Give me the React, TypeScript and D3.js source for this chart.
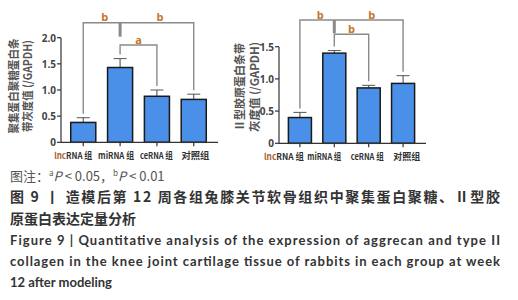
import React from "react";
import * as d3 from "d3";

const categories = ["lncRNA 组", "miRNA 组", "ceRNA 组", "对照组"];
const aggrecanMeans = [0.38, 1.43, 0.88, 0.82];
const aggrecanErr = [0.47, 1.6, 1.0, 0.92];
const collagenMeans = [0.4, 1.4, 0.86, 0.93];
const collagenErr = [0.48, 1.44, 0.9, 1.05];
const aggrecanTicks = [0, 0.5, 1.0, 1.5, 2.0];
const collagenTicks = [0, 0.5, 1.0, 1.5];
const aggrecanSig = ["b", "b", "a"];
const collagenSig = ["b", "b", "b"];
const yLabelLeft = ["聚集蛋白聚糖蛋白条", "带灰度值 (/GAPDH)"];
const yLabelRight = ["Ⅱ型胶原蛋白条带", "灰度值 (/GAPDH)"];
const captionNote = "图注：";
const captionCn1 = "图 9 丨 造模后第 12 周各组兔膝关节软骨组织中聚集蛋白聚糖、Ⅱ型胶";
const captionCn2 = "原蛋白表达定量分析";
const captionEn = [
  "Figure 9 |  Quantitative analysis of the expression of aggrecan and type II",
  "collagen in the knee joint cartilage tissue of rabbits in each group at week",
  "12 after modeling",
];

const CJK = "'Noto Sans CJK SC', 'Noto Sans', sans-serif";
const BAR = "#4a8fe8";
const SIG = "#c8742c";
const GRAY = "#8a8a8a";

type PanelProps = {
  x0: number; x1: number; y0: number; y1: number; yMax: number;
  means: number[]; errs: number[]; ticks: number[]; sig: string[];
  topY: number; midY: number; stemEnd: number; barFrac: number;
  label: string[]; labelX: number[]; labelY: number; labelLen: number[];
  catDx: number[]; catW: number[];
};

function Panel(p: PanelProps) {
  const x = d3.scaleBand<string>().domain(categories).range([p.x0 + 2, p.x1 - 4]).paddingInner(1 - p.barFrac).paddingOuter((1 - p.barFrac) / 2 + 0.05);
  const y = d3.scaleLinear().domain([0, p.yMax]).range([p.y0, p.y1]);
  const cx = (i: number) => (x(categories[i]) as number) + x.bandwidth() / 2;
  const bw = x.bandwidth();
  const fmt = (v: number) => (v === 0 ? "0" : d3.format(".1f")(v));
  const drop = (i: number) => y(p.errs[i]) - 4;
  return (
    <g>
      {p.label.map((t, i) => (
        <text key={i} transform={`translate(${p.labelX[i]},${p.labelY}) rotate(-90)`} textAnchor="middle" dominantBaseline="central"
          fontFamily={CJK} fontSize={11.5} fontWeight="bold" fill="#555" textLength={p.labelLen[i]} lengthAdjust="spacingAndGlyphs">{t}</text>
      ))}
      {p.means.map((m, i) => (
        <g key={i}>
          <line x1={cx(i)} x2={cx(i)} y1={y(m)} y2={y(p.errs[i])} stroke="#444" strokeWidth={1} />
          <line x1={cx(i) - 6.5} x2={cx(i) + 6.5} y1={y(p.errs[i])} y2={y(p.errs[i])} stroke="#555" strokeWidth={1} />
          <rect x={x(categories[i])} y={y(m)} width={bw} height={p.y0 - y(m)} fill={BAR} stroke="#1a1a1a" strokeWidth={1.5} />
        </g>
      ))}
      <line x1={p.x0} x2={p.x0} y1={p.y0} y2={y(p.yMax)} stroke="#333" strokeWidth={1.2} />
      <line x1={p.x0} x2={p.x1} y1={p.y0} y2={p.y0} stroke="#333" strokeWidth={1.2} />
      {p.ticks.map((t) => (
        <g key={t}>
          <line x1={p.x0 - 4} x2={p.x0} y1={y(t)} y2={y(t)} stroke="#333" strokeWidth={1.2} />
          <text x={p.x0 - 5} y={y(t)} textAnchor="end" dominantBaseline="central" fontFamily="'Open Sans', sans-serif" fontWeight="bold" fontSize={10} fill="#444">{fmt(t)}</text>
        </g>
      ))}
      {categories.map((c, i) => (
        <g key={c}>
          <line x1={cx(i)} x2={cx(i)} y1={p.y0} y2={p.y0 + 4} stroke="#333" strokeWidth={1.2} />
          <text x={cx(i) + p.catDx[i]} y={p.y0 + 13} textAnchor="middle" dominantBaseline="central" fontFamily={CJK} fontSize={9} fontWeight="bold" fill="#333"
            textLength={p.catW[i]} lengthAdjust="spacingAndGlyphs">
            {c.startsWith("lnc") ? (<><tspan fill="#a8602c">lnc</tspan>{c.slice(3)}</>) : c}
          </text>
        </g>
      ))}
      <g fill="none" stroke={GRAY} strokeWidth={1.4}>
        <path d={`M${cx(0)},${drop(0)}V${p.topY}H${cx(3)}V${drop(3)}`} />
        <path d={`M${cx(1)},${drop(1)}V${p.midY}H${cx(2)}V${drop(2)}`} />
        <line x1={cx(1)} x2={cx(1)} y1={p.topY} y2={p.stemEnd} strokeWidth={3} />
      </g>
      <text x={(cx(0) + cx(1)) / 2 + 3} y={p.topY - 6} textAnchor="middle" dominantBaseline="central" fontFamily="'Open Sans', sans-serif" fontWeight="bold" fontSize={11} fill={SIG}>{p.sig[0]}</text>
      <text x={(cx(1) + cx(3)) / 2 + 3} y={p.topY - 6} textAnchor="middle" dominantBaseline="central" fontFamily="'Open Sans', sans-serif" fontWeight="bold" fontSize={11} fill={SIG}>{p.sig[1]}</text>
      <text x={(cx(1) + cx(2)) / 2} y={p.midY - 6} textAnchor="middle" dominantBaseline="central" fontFamily="'Open Sans', sans-serif" fontWeight="bold" fontSize={11} fill={SIG}>{p.sig[2]}</text>
    </g>
  );
}

export default function App() {
  return (
    <svg width={518} height={300} style={{ position: "absolute", left: 0, top: 0, background: "#fff" }}>
      <Panel x0={61} x1={218} y0={142.3} y1={37.7} yMax={2.0} means={aggrecanMeans} errs={aggrecanErr} ticks={aggrecanTicks}
        sig={aggrecanSig} topY={22.7} midY={45} stemEnd={36.7} barFrac={0.68}
        label={yLabelLeft} labelX={[12.7, 26.7]} labelY={86} labelLen={[95, 92]}
        catDx={[-10, -4, -0.5, 1.7]} catW={[38, 36, 33, 28]} />
      <Panel x0={279} x1={426} y0={143.3} y1={46.7} yMax={1.5} means={collagenMeans} errs={collagenErr} ticks={collagenTicks}
        sig={collagenSig} topY={20} midY={34.3} stemEnd={33.3} barFrac={0.67}
        label={yLabelRight} labelX={[239.3, 254]} labelY={87} labelLen={[88, 90]}
        catDx={[-16, -10, -1.5, 3.7]} catW={[40, 34, 33, 27]} />
      <text x={10} y={181} fontFamily={CJK} fontSize={13} fill="#555">
        {captionNote}
        <tspan fontSize={8} dy={-5}>a</tspan>
        <tspan fontStyle="italic" dy={5}>P</tspan>
        {" < 0.05，"}
        <tspan fontSize={8} dy={-5}>b</tspan>
        <tspan fontStyle="italic" dy={5}>P</tspan>
        {" < 0.01"}
      </text>
      <text x={10} y={202} fontFamily={CJK} fontSize={14} fontWeight="bold" fill="#333" textLength={490} lengthAdjust="spacing">{captionCn1}</text>
      <text x={10} y={224} fontFamily={CJK} fontSize={14} fontWeight="bold" fill="#333">{captionCn2}</text>
      {captionEn.map((t, i) => (
        <text key={i} x={10} y={245 + i * 21} fontFamily="Lato, 'Open Sans', sans-serif" fontSize={13} fontWeight="bold" fill="#333"
          textLength={i < 2 ? 490 : undefined} lengthAdjust="spacing">{t}</text>
      ))}
    </svg>
  );
}
